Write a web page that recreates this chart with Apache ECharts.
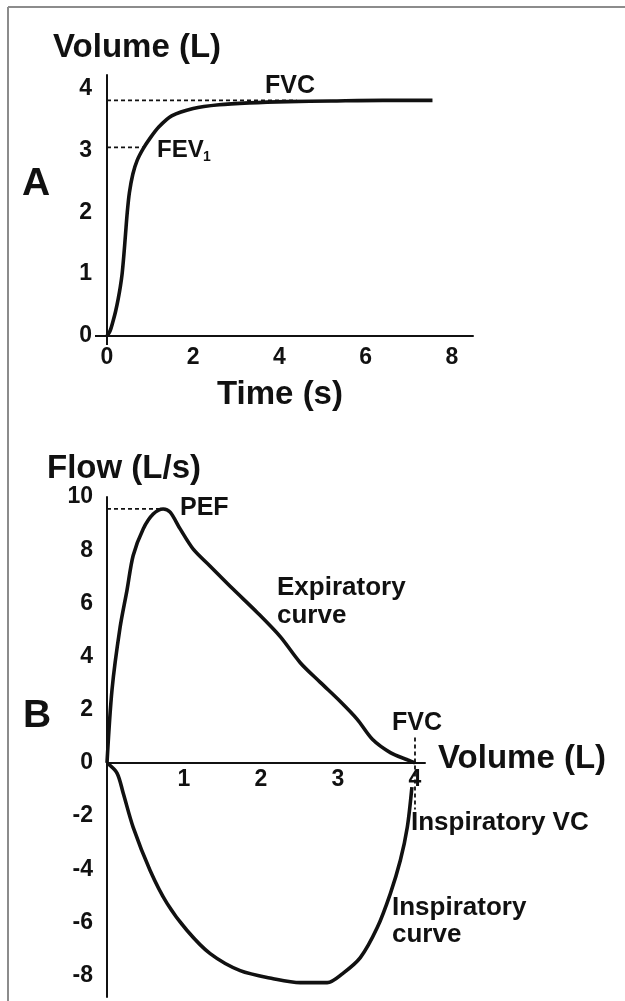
<!DOCTYPE html>
<html>
<head>
<meta charset="utf-8">
<script src="https://cdn.jsdelivr.net/npm/echarts@6/dist/echarts.min.js"></script>
<style>
html,body{margin:0;padding:0;background:#fff;}
#chart{width:625px;height:1001px;}
</style>
</head>
<body>
<div id="chart"></div>
<script>
// A: volume-time curve
const timeA = [0, 0.07, 0.14, 0.2, 0.26, 0.31, 0.35, 0.39, 0.43, 0.47, 0.52, 0.6, 0.7, 0.84, 1.0, 1.2, 1.5, 2.0, 2.6, 3.3, 4.2, 5.2, 6.4, 7.55];
const volA = [0, 0.08, 0.24, 0.4, 0.6, 0.8, 1.0, 1.3, 1.65, 2.0, 2.32, 2.62, 2.84, 3.03, 3.2, 3.38, 3.56, 3.68, 3.74, 3.77, 3.79, 3.8, 3.81, 3.81];
const fvcA = 3.81, fvcDashEnd = 4.4;
const fev1 = 3.05, fev1Time = 0.84;
const ticksAy = [0, 1, 2, 3, 4];
const ticksAx = [0, 2, 4, 6, 8];

// B: flow-volume loop
const expVol = [0, 0.065, 0.17, 0.26, 0.34, 0.47, 0.6, 0.73, 0.82, 0.95, 1.12, 1.34, 1.64, 1.95, 2.25, 2.51, 2.77, 3.03, 3.25, 3.45, 3.68, 3.9, 4.0];
const expFlow = [0, 2.75, 5.1, 6.5, 7.8, 8.8, 9.36, 9.55, 9.43, 8.8, 8.04, 7.4, 6.53, 5.66, 4.75, 3.77, 3.03, 2.31, 1.64, 0.88, 0.39, 0.12, 0];
const insVol = [0, 0.13, 0.21, 0.34, 0.56, 0.78, 1.04, 1.34, 1.73, 2.16, 2.51, 2.86, 3.06, 3.29, 3.51, 3.68, 3.81, 3.9, 3.96];
const insFlow = [0, -0.38, -1.13, -2.42, -4.04, -5.28, -6.3, -7.17, -7.81, -8.11, -8.26, -8.26, -7.92, -7.32, -6.19, -4.91, -3.66, -2.42, -0.91];
const pef = 9.55, pefVol = 0.73;
const fvcB = 4.0, fvcDashTop = 0.96, fvcDashBottom = -1.75;
const ticksBy = [-8, -6, -4, -2, 0, 2, 4, 6, 8, 10];
const ticksBx = [1, 2, 3, 4];

const FONT = '"Liberation Sans", Arial, sans-serif';
const INK = '#111';

function zip(a, b) { return a.map((v, i) => [v, b[i]]); }

function txt(x, y, text, size, align) {
  return {
    type: 'text', x: x, y: y, z: 100,
    style: {
      text: text, fill: INK,
      font: 'bold ' + size + 'px ' + FONT,
      textAlign: align || 'left', align: align || 'left',
      textVerticalAlign: 'middle', verticalAlign: 'middle'
    }
  };
}

const axisLineZ = { show: true, onZero: false, lineStyle: { color: INK, width: 2 } };
const labelStyle = { fontFamily: FONT, fontWeight: 'bold', fontSize: 23, color: INK };
const dash = { color: INK, width: 1.8, type: [4, 3] };
const solid = { color: INK, width: 3.6 };

// panel B: 0 flow sits 10/18.8 of the way down a 500px grid
const bMin = -8.8, bMax = 10, bHeight = 500;
const bZeroOffset = -bHeight * (-bMin) / (bMax - bMin);

const myChart = echarts.init(document.getElementById('chart'));
const option = {
  animation: false,
  backgroundColor: '#fff',
  grid: [
    { left: 107, top: 75, width: 366, height: 261, containLabel: false, outerBoundsMode: 'none' },
    { left: 107, top: 497, width: 318, height: bHeight, containLabel: false, outerBoundsMode: 'none' }
  ],
  xAxis: [
    {
      gridIndex: 0, type: 'value', min: 0, max: 8.49,
      axisLine: axisLineZ,
      axisTick: { show: true, customValues: [0], length: 9, lineStyle: { color: INK, width: 2 } },
      axisLabel: Object.assign({ customValues: ticksAx, margin: 10 }, labelStyle),
      splitLine: { show: false }
    },
    {
      gridIndex: 1, type: 'value', min: 0, max: 4.13, offset: bZeroOffset,
      axisLine: axisLineZ,
      axisTick: { show: false },
      axisLabel: Object.assign({ customValues: ticksBx, margin: 5 }, labelStyle),
      splitLine: { show: false }
    }
  ],
  yAxis: [
    {
      gridIndex: 0, type: 'value', min: 0, max: 4.22,
      axisLine: axisLineZ,
      axisTick: { show: true, customValues: [0], length: 12, lineStyle: { color: INK, width: 2 } },
      axisLabel: Object.assign({ customValues: ticksAy, margin: 15 }, labelStyle),
      splitLine: { show: false }
    },
    {
      gridIndex: 1, type: 'value', min: bMin, max: bMax,
      axisLine: axisLineZ,
      axisTick: { show: false },
      axisLabel: Object.assign({ customValues: ticksBy, margin: 14 }, labelStyle),
      splitLine: { show: false }
    }
  ],
  series: [
    { type: 'line', xAxisIndex: 0, yAxisIndex: 0, data: [[0, fev1], [fev1Time, fev1]], symbol: 'none', lineStyle: dash },
    { type: 'line', xAxisIndex: 0, yAxisIndex: 0, data: [[0, fvcA], [fvcDashEnd, fvcA]], symbol: 'none', lineStyle: dash },
    { type: 'line', xAxisIndex: 0, yAxisIndex: 0, data: zip(timeA, volA), smooth: 0.3, symbol: 'none', lineStyle: solid },

    { type: 'line', xAxisIndex: 1, yAxisIndex: 1, data: [[0, pef], [pefVol, pef]], symbol: 'none', lineStyle: dash },
    { type: 'line', xAxisIndex: 1, yAxisIndex: 1, data: [[fvcB, fvcDashTop], [fvcB, fvcDashBottom]], symbol: 'none', lineStyle: dash },
    { type: 'line', xAxisIndex: 1, yAxisIndex: 1, data: zip(expVol, expFlow), smooth: 0.3, symbol: 'none', lineStyle: solid },
    { type: 'line', xAxisIndex: 1, yAxisIndex: 1, data: zip(insVol, insFlow), smooth: 0.3, symbol: 'none', lineStyle: solid }
  ],
  graphic: [
    { type: 'line', shape: { x1: 8, y1: 7, x2: 625, y2: 7 }, style: { stroke: '#8c8c8c', lineWidth: 2 } },
    { type: 'line', shape: { x1: 8, y1: 7, x2: 8, y2: 1001 }, style: { stroke: '#8c8c8c', lineWidth: 2 } },

    txt(53, 48, 'Volume (L)', 33),
    txt(36, 184, 'A', 39, 'center'),
    txt(265, 86, 'FVC', 25),
    txt(157, 150, 'FEV', 24),
    txt(203, 157, '1', 14),
    txt(280, 395, 'Time (s)', 33, 'center'),

    txt(47, 469, 'Flow (L/s)', 33),
    txt(37, 716, 'B', 39, 'center'),
    txt(180, 508, 'PEF', 25),
    txt(277, 588, 'Expiratory', 26),
    txt(277, 616, 'curve', 26),
    txt(392, 723, 'FVC', 25),
    txt(438, 759, 'Volume (L)', 33),
    txt(411, 823, 'Inspiratory VC', 26),
    txt(392, 908, 'Inspiratory', 26),
    txt(392, 935, 'curve', 26)
  ]
};
myChart.setOption(option);
</script>
</body>
</html>
